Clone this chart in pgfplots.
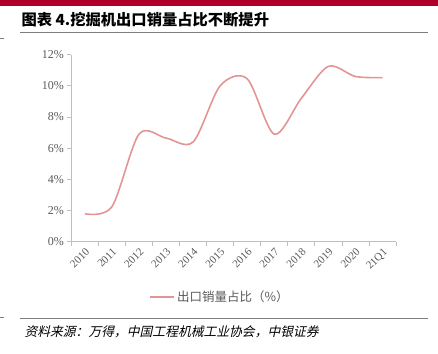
\documentclass[border=0pt]{standalone}
\usepackage{pgfplots}
\pgfplotsset{compat=1.18}
\usepackage{fontspec}
\setmainfont{Liberation Serif}
\newfontfamily\cjk{Noto Sans CJK SC}
\newfontfamily\cjkit[FakeSlant=0.22]{Noto Sans CJK SC}
\definecolor{topred}{HTML}{B0002A}
\definecolor{linepink}{HTML}{E39494}
\definecolor{ticktext}{HTML}{595959}
\definecolor{axisgray}{HTML}{BFBFBF}
\definecolor{rulegray}{HTML}{7F7F7F}
\begin{document}
\begin{tikzpicture}[x=1pt,y=1pt]
\path (0,0) rectangle (438,354);
\fill[topred] (0,348) rectangle (438,354);
\node[anchor=west, inner sep=0pt, font=\cjk\bfseries\fontsize{15.3}{17}\selectfont] at (21,334) {图表 4.挖掘机出口销量占比不断提升};
\draw[rulegray, line width=1pt] (20,321) -- (428,321);
\draw[rulegray, line width=0.8pt] (0,316) -- (4,316);
\draw[rulegray, line width=1pt] (20,35) -- (428,35);
\draw[rulegray, line width=0.8pt] (0,36) -- (4,36);
\node[anchor=west, inner sep=0pt, font=\cjkit\fontsize{12.8}{14}\selectfont] at (24,22) {资料来源：万得，中国工程机械工业协会，中银证券};
\begin{axis}[
  at={(71pt,112pt)}, anchor=south west,
  scale only axis, width=325pt, height=187.3pt,
  xmin=-0.5, xmax=11.5, ymin=0, ymax=12,
  axis lines=left, axis line style={axisgray, line width=0.8pt, -},
  tick align=outside,
  xtick={0,...,11},
  xticklabels={2010,2011,2012,2013,2014,2015,2016,2017,2018,2019,2020,21Q1},
  minor xtick={-0.5,0.5,...,11.5},
  major x tick style={draw=none},
  minor tick length=4pt, major tick length=4pt,
  tick style={axisgray, line width=0.8pt},
  x tick label style={rotate=45, anchor=north east, font=\fontsize{11}{12}\selectfont, text=ticktext, inner sep=1pt},
  ytick={0,2,...,12},
  yticklabels={0\%,2\%,4\%,6\%,8\%,10\%,12\%},
  y tick label style={font=\fontsize{12}{14}\selectfont, text=ticktext},
  clip=false,
  legend style={at={(0.458,-0.294)}, anchor=center, draw=none, fill=none, font=\cjk\fontsize{12.5}{14}\selectfont, text=ticktext},
  legend cell align=left,
  legend image code/.code={\draw[#1] (0pt,0pt) -- (24pt,0pt);},
]
\addplot[linepink, line width=1.6pt, smooth, tension=0.5] coordinates {
(0,1.8) (1,2.25) (2,6.9) (3,6.65) (4,6.4) (5,10.0) (6,10.45) (7,6.9) (8,9.2) (9,11.25) (10,10.6) (11,10.53)
};
\addlegendentry{出口销量占比（\%）}
\end{axis}
\end{tikzpicture}
\end{document}
